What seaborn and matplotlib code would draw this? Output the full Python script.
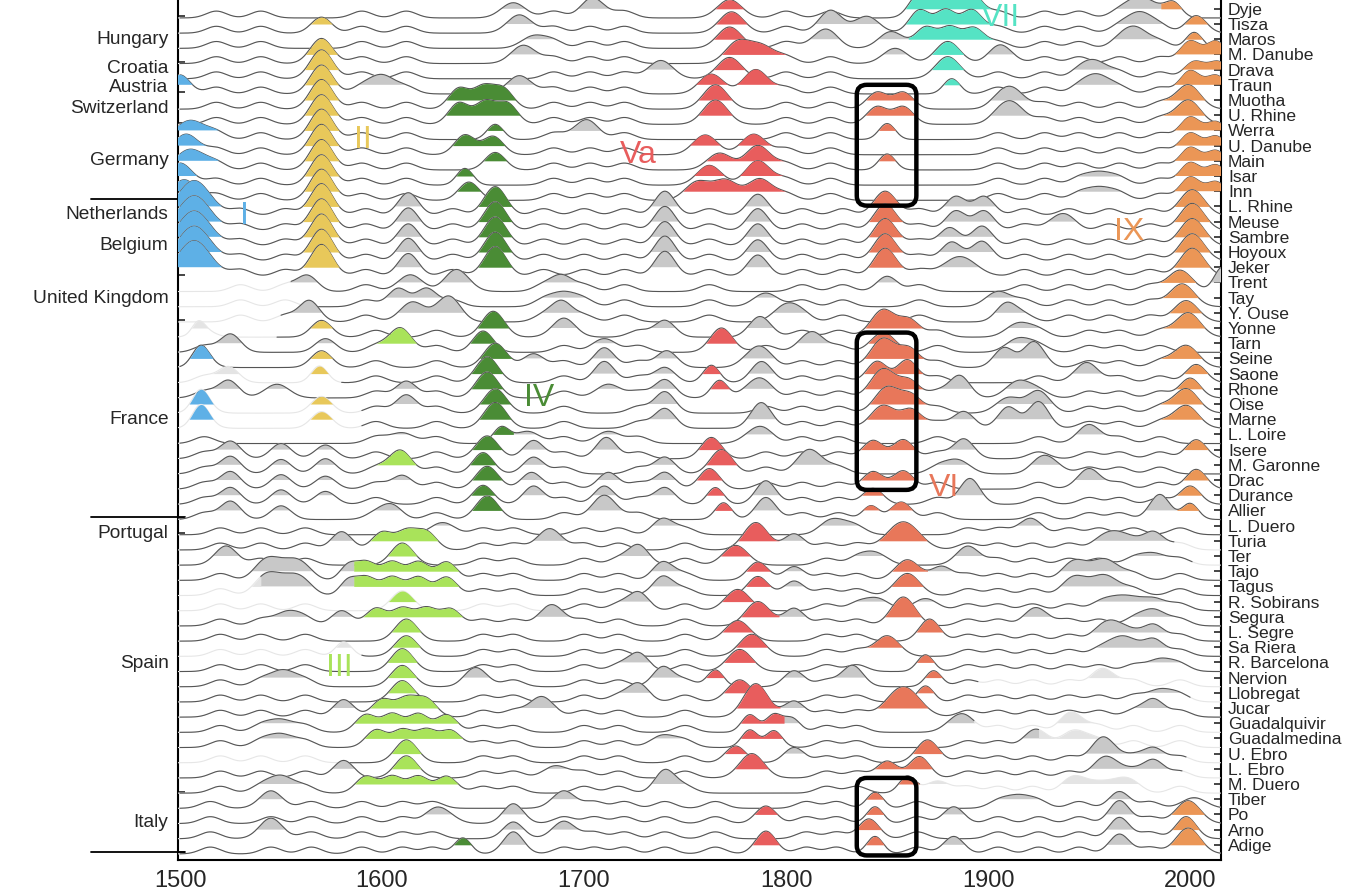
import numpy as np
import matplotlib
matplotlib.use("Agg")
import matplotlib.pyplot as plt
import seaborn as sns
from matplotlib.patches import FancyBboxPatch
from matplotlib.transforms import blended_transform_factory

# ---- data --------------------------------------------------------------
rivers = ["Dyje", "Tisza", "Maros", "M. Danube", "Drava", "Traun", "Muotha", "U. Rhine",
          "Werra", "U. Danube", "Main", "Isar", "Inn", "L. Rhine", "Meuse", "Sambre",
          "Hoyoux", "Jeker", "Trent", "Tay", "Y. Ouse", "Yonne", "Tarn", "Seine", "Saone",
          "Rhone", "Oise", "Marne", "L. Loire", "Isere", "M. Garonne", "Drac", "Durance",
          "Allier", "L. Duero", "Turia", "Ter", "Tajo", "Tagus", "R. Sobirans", "Segura",
          "L. Segre", "Sa Riera", "R. Barcelona", "Nervion", "Llobregat", "Jucar",
          "Guadalquivir", "Guadalmedina", "U. Ebro", "L. Ebro", "M. Duero", "Tiber", "Po",
          "Arno", "Adige"]

# first / last year of a continuous record (outside it the curve is faint)
record_start = [1500] * 18 + [1555, 1568, 1550, 1548, 1500, 1500, 1580, 1500, 1590, 1590,
                              1500, 1500, 1500, 1500, 1500, 1500, 1500, 1500, 1500, 1500,
                              1540, 1686, 1500, 1500, 1590, 1500, 1500, 1500, 1500, 1500,
                              1500, 1580, 1500, 1500, 1500, 1500, 1500, 1500]
record_end = [2016] * 35 + [1992, 2001, 2016, 2016, 2016, 2016, 2016, 2016, 2016, 1895,
                            2000, 2016, 1893, 1925, 1998, 1996, 1866, 2016, 2016, 2016, 2016]

# flood-rich episodes per river: "year:height[:spread][:cluster]"
episodes = [
    "1665:.4 1705:.3 1772:.6:Va 1866:1.0:5:VII 1879:1.0:5:VII 1892:1.0:5:VII 1975:.7 1992:.3:4:IX",
    "1570:.45:5:II 1668:.6 1773:.8:Va 1822:.45 1840:.5 1866:.9:5:VII 1879:.9:5:VII 1892:.9:5:VII 1975:.7 2003:.55:5:IX",
    "1675:.2 1772:.8:Va 1818:.3 1852:.5 1869:.75:5:VII 1881:.75:5:VII 1893:.7:5:VII 1973:.7 2002:.45:4:IX",
    "1570:1.05:5.5:II 1670:.6 1776:.8:Va 1788:.5:Va 1854:.4 1880:.85:VII 1907:.2 2000:.85:5:IX 2013:.85:5:IX",
    "1570:1.3:5.5:II 1738:.6 1772:.8:Va 1880:.85:VII 1953:.5 2002:.5:5:IX 2014:.5:5:IX",
    "1500:.65:5:I 1570:1.3:5.5:II 1600:.6 1668:.6 1763:.7:Va 1785:1.0:Va 1882:.4:4:VII 1954:.6 2000:.9:5:IX 2013:.6:5:IX",
    "1570:1.35:5.5:II 1638:.75:5:IV 1650:.8:5:IV 1660:.7:5:IV 1765:1.0:Va 1845:.5:5:VI 1858:.5:5:VI 1912:.7 1999:1.0:IX",
    "1570:1.35:5.5:II 1638:.8:5:IV 1651:.85:5:IV 1662:.75:5:IV 1765:1.0:Va 1845:.55:5:VI 1858:.55:5:VI 1912:.75 1999:1.0:IX",
    "1505:.65:7:I 1570:1.4:5.5:II 1656:.4:4:IV 1700:.3 1850:.45:4:VI 2000:.85:5:IX 2013:.55:5:IX",
    "1503:.75:6:I 1570:1.4:5.5:II 1641:.7:5:IV 1655:.6:5:IV 1760:.7:Va 1784:.75:Va 2000:.8:5:IX 2013:.6:5:IX",
    "1505:.75:7:I 1570:1.4:5.5:II 1656:.55:5:IV 1767:.5:Va 1786:1.0:Va 1850:.45:4:VI 2000:.85:5:IX 2013:.65:5:IX",
    "1500:.85:6:I 1570:1.4:5.5:II 1641:.5:4:IV 1762:.7:Va 1786:1.0:Va 1955:.2 2000:.85:5:IX 2013:.7:5:IX",
    "1502:.75:6:I 1570:1.45:5.5:II 1643:.6:5:IV 1756:.6:Va 1770:.7:Va 1787:.8:Va 1955:.2 2000:.9:5:IX 2013:.6:5:IX",
    "1507:1.7:8:I 1570:1.5:5.5:II 1613:.9:5 1656:1.3:5.5:IV 1740:1.0:5 1786:.8:5 1849:1.0:5.5:VI 1884:.65:5 1898:.65:5 2001:1.1:IX",
    "1507:1.7:8:I 1570:1.5:5.5:II 1613:.9:5 1656:1.3:5.5:IV 1740:1.0:5 1786:.85:5 1849:1.15:5.5:VI 1884:.7:5 1898:.7:5 1935:.2 2001:1.2:IX",
    "1507:1.7:8:I 1570:1.5:5.5:II 1613:.85:5 1656:1.3:5.5:IV 1740:1.0:5 1786:.85:5 1849:1.2:5.5:VI 1881:.6:5 1897:.7:5 2001:1.2:IX",
    "1507:1.7:8:I 1570:1.5:5.5:II 1613:.9:5 1656:1.3:5.5:IV 1740:1.05:5 1786:.8:5 1849:1.2:5.5:VI 1882:.65:5 1897:.7:5 2001:1.2:IX",
    "1507:1.75:8:I 1570:1.5:5.5:II 1613:.9:5 1656:1.35:5.5:IV 1740:1.05:5 1786:.8:5 1849:1.25:5.5:VI 1886:.7:8 2001:1.25:IX",
    "1563:.45:5 1614:.5 1638:.45 1689:.4:5 1850:.4:5 1995:.8:IX 2016:1.0:4",
    "1608:.6:5 1622:.6:5 1690:.3 1790:.3 1905:.4 1996:.9:IX",
    "1564:.8:5 1615:.7 1632:.7 1689:.7:5 1800:.5 1909:.6:5 1998:.8:IX",
    "1509:.1:3 1570:.5:5:II 1655:1.1:5.5:IV 1690:.2 1740:.5:5 1786:.4:5 1848:1.2:VI 1861:.5:5:VI 1915:.3 1999:1.0:IX",
    "1525:.6:5 1572:.3:5 1609:1.0:5.5:III 1650:.8:5:IV 1710:.3 1768:1.0:5.5:Va 1814:.5:5 1848:.7:VI 1915:.3",
    "1510:.45:4:I 1570:.5:5:II 1656:1.0:5.5:IV 1675:.3:5 1710:.7:5 1741:.5:5 1785:.5 1848:1.3:VI 1861:.6:5:VI 1908:.7:5 1922:.7:5 1998:.85:IX",
    "1524:.45:5 1569:.5:4:II 1652:1.1:5.5:IV 1710:.8:5 1740:.4:5 1763:.55:4:Va 1787:.4:5 1845:.8:5:VI 1860:.9:5:VI 1948:.3 2003:.6:5:IX",
    "1524:.55:5 1548:.3 1612:.5:5 1652:1.1:5.5:IV 1712:.3 1740:.6:5 1767:.55:4:Va 1785:.4 1848:1.3:VI 1861:.5:5:VI 1886:.85:5 1915:.5 2000:.7:5:IX",
    "1510:.55:4:I 1570:.5:5:II 1612:.6:5 1656:1.0:5.5:IV 1740:.8:5 1850:1.1:VI 1862:.5:5:VI 1910:.4 1925:.4 1998:1.0:IX",
    "1510:.55:4:I 1570:.5:5:II 1656:1.1:5.5:IV 1740:.7:5 1787:.7:5 1848:.9:VI 1862:.6:5:VI 1888:.5:5 1910:.8:5 1925:.7:5 1998:.9:IX",
    "1610:.1 1659:.45:4:IV 1672:.2 1712:.2 1785:.2 1950:.2",
    "1525:.55:5 1550:.4:5 1572:.3:5 1652:.9:5.5:IV 1675:.6:5 1711:.8:5 1763:.8:5:Va 1843:.6:5:VI 1858:.65:5:VI 1888:.7:5 2003:.65:5:IX",
    "1525:.55:5 1550:.35:5 1572:.4:5 1609:.95:5.5:III 1650:.8:5:IV 1675:.5:5 1740:.5:5 1768:1.0:5.5:Va 1813:.7 1885:.3 1930:.3",
    "1525:.55:5 1550:.35:5 1572:.25:5 1610:.3:5 1652:.9:5.5:IV 1674:.5:5 1712:.5:5 1740:.5:5 1762:.75:5:Va 1843:.55:5:VI 1858:.6:5:VI 1950:.3 2003:.7:5:IX",
    "1525:.5:5 1550:.35:5 1572:.25:5 1650:.65:5:IV 1675:.6:5 1710:.6:5 1740:.5:5 1765:.5:4:Va 1790:.5:5 1843:.45:5:VI 1891:1.1:5 2000:.6:5:IX",
    "1525:.6:5 1550:.3:5 1605:.3:5 1652:.95:5.5:IV 1710:1.0 1769:.5:4:Va 1790:.4:5 1842:.3:4:VI 1857:.55:5:VI 1985:.6:5 2000:.45:4:IX",
    "1630:.2 1739:.45:5 1826:.15 1920:.05",
    "1580:.6:5 1600:.55:5:III 1612:.6:5:III 1622:.55:5:III 1683:.8 1785:1.2:Va 1804:.45:5 1858:1.25:8:VI 1963:.45 1982:.55:5",
    "1524:.3:5 1610:.85:5.5:III 1727:.7:5 1775:.7:Va 1844:.2 1890:.2 1982:.15",
    "1545:.5 1556:.45 1583:.3:4 1592:.6:5:III 1605:.6:5:III 1618:.6:5:III 1632:.6:5:III 1739:.6:5 1786:.6:5:Va 1804:.3:5 1860:.75:VI 1877:.3:5 1945:.4 1960:.4",
    "1545:.5 1556:.45 1583:.3:4 1592:.6:5:III 1605:.6:5:III 1618:.6:5:III 1632:.6:5:III 1739:.65:5 1786:.65:5:Va 1804:.35:5 1860:.85:VI 1945:.35 1960:.35",
    "1610:.7:5.5:III 1727:.6:5 1776:.8:Va 1845:.2 1869:.2 1964:.2 1982:.2",
    "1553:.3 1580:.4:5 1597:.55:5:III 1610:.55:5:III 1622:.55:5:III 1634:.5:5:III 1684:.8 1786:1.0:Va 1804:.55:5 1858:1.3:VI 1925:.2 1982:.45",
    "1612:.85:5.5:III 1776:.75:Va 1871:.85:5:VI 1962:.55 1982:.45:5",
    "1581:.35:4 1612:.75:5.5:III 1783:.85:Va 1850:.75:VI 1965:.5 1982:.5:5",
    "1610:.9:5.5:III 1727:.6:5 1777:.85:Va 1869:.5:4:VI 1985:.2",
    "1551:.45 1610:.8:5.5:III 1645:.35:5 1739:.7:5 1765:.5:4:Va 1804:.45:5 1832:.4:5 1873:.45:4:VI 1958:.2",
    "1610:.8:5.5:III 1727:.6:5 1777:.85:Va 1869:.45:4:VI 1985:.2",
    "1581:.55:5 1600:.55:5:III 1612:.6:5:III 1622:.55:5:III 1679:.75 1785:1.6:Va 1804:.45:5 1858:1.4:8:VI 1982:.55:5",
    "1550:.2 1592:.55:5:III 1605:.6:5:III 1618:.6:5:III 1632:.55:5:III 1782:.55:4:Va 1794:.55:4:Va 1803:.3:4 1885:.3 1942:.3",
    "1550:.25 1597:.55:5:III 1610:.55:5:III 1622:.55:5:III 1634:.5:5:III 1739:.2 1782:.55:4:Va 1794:.5:4:Va 1925:.2 1945:.2",
    "1612:.9:5.5:III 1775:.5:5:Va 1804:.4:5 1870:.9:5.5:VI 1958:.7 1982:.35:5",
    "1581:.55:5 1612:.85:5.5:III 1686:.2 1783:1.0:Va 1850:.5:5:VI 1866:.8:5:VI 1960:.5 1982:.55:5",
    "1550:.5 1592:.5:5:III 1605:.5:5:III 1618:.5:5:III 1632:.5:5:III 1740:.9:5 1860:.5:4:VI 1875:.2 1945:.2 1965:.2",
    "1545:.1 1690:.1 1844:.45:4:VI 1915:.2 1965:.5:5 2002:.1",
    "1630:.15 1665:.7:5 1790:.55:5:Va 1844:.5:4:VI 1883:.5:5 1965:.9:5 1999:.9:IX",
    "1545:.3 1665:.5:5 1690:.1 1841:.7:5:VI 1965:.8:5 1998:.85:5:IX",
    "1640:.45:4:IV 1665:.85:5 1790:.9:5:Va 1844:.55:4:VI 1883:.55:5 1965:.7:5 1999:1.1:IX",
]

# small background undulations shared within regions (first row, last row, years)
wiggles = [
    (0, 12, [1518, 1540, 1590, 1612, 1685, 1703, 1720, 1800, 1822, 1905, 1928, 1945, 1965, 1985]),
    (13, 20, [1530, 1552, 1592, 1635, 1680, 1700, 1720, 1762, 1808, 1828, 1866, 1918, 1940, 1960, 1980]),
    (21, 33, [1512, 1597, 1627, 1690, 1727, 1790, 1808, 1826, 1875, 1925, 1950, 1965, 1985]),
    (34, 51, [1520, 1540, 1562, 1650, 1665, 1700, 1717, 1750, 1820, 1835, 1890, 1905, 1922, 1940,
              1955, 1972, 1995]),
    (52, 55, [1515, 1545, 1565, 1590, 1610, 1625, 1690, 1705, 1720, 1740, 1765, 1810, 1825, 1865,
              1905, 1925, 1945, 1980]),
]

cluster_names = ["I", "II", "III", "IV", "Va", "VI", "VII", "IX"]
cluster_colors = ["#5eb0e6", "#e8c85a", "#a9e35a", "#4a8c35", "#e85d5d", "#e8775a", "#55e3c4", "#eb9656"]
label_year = [1532, 1590.5, 1579, 1678, 1727, 1878, 1906, 1970]
label_row = [13.6, 8.6, 43.4, 25.6, 9.6, 31.5, 0.6, 14.7]

countries = ["Hungary", "Croatia", "Austria", "Switzerland", "Germany", "Netherlands", "Belgium",
             "United Kingdom", "France", "Portugal", "Spain", "Italy"]
country_row = [2.05, 3.95, 5.15, 6.55, 10.0, 13.5, 15.55, 19.05, 27.0, 34.5, 43.05, 53.5]
country_bounds = [0.5, 3.5, 4.5, 5.5, 7.5, 12.5, 13.5, 17.5, 20.5, 33.5, 34.5, 51.5, 55.5]
separators = [12.5, 33.45, 55.45]

# highlighted boxes: (year from, year to, row from, row to)
boxes = [(1835, 1864.5, 5.0, 12.95), (1835, 1864.5, 21.3, 31.65), (1835, 1864.5, 50.6, 55.7)]

# ---- drawing ----------------------------------------------------------------
sns.set_style("white")
plt.rcParams["font.family"] = ["Liberation Sans", "DejaVu Sans"]

fig, ax = plt.subplots(figsize=(13.48, 8.92), dpi=100)
fig.subplots_adjust(left=178 / 1348, right=1221 / 1348, bottom=1 - 860 / 892, top=1.0)

BASE = 0.6
xs = np.arange(1499.0, 2016.01, 0.5)
color_of = dict(zip(cluster_names, cluster_colors))


def parse(s):
    out = []
    for tok in s.split():
        p = tok.split(":")
        sd, cl = 6.0, ""
        for q in p[2:]:
            try:
                sd = float(q)
            except ValueError:
                cl = q
        out.append((float(p[0]), float(p[1]) + BASE, sd, cl))
    return out


def dilate(m):
    return m | np.roll(m, 1) | np.roll(m, -1)


for i, name in enumerate(rivers):
    bumps = parse(episodes[i])
    contrib = np.array([h * np.exp(-0.5 * ((xs - yr) / sd) ** 2) for yr, h, sd, _ in bumps])
    wig_years = [w for a, b, ys in wiggles if a <= i <= b for w in ys]
    wig = sum(0.45 * np.exp(-0.5 * ((xs - w) / 5.0) ** 2) for w in wig_years)
    curve = contrib.sum(0) + wig - BASE

    labels = np.array([b[3] for b in bumps])
    dom = labels[contrib.argmax(0)]
    dom[contrib.max(0) < 0.1] = ""

    y0 = -i
    top = y0 + np.maximum(curve, 0)
    above = curve > 0
    active = (xs >= record_start[i]) & (xs <= record_end[i])
    z = 10 + 3 * i

    for cl in np.unique(dom[above]):
        m = above & (dom == cl)
        if cl == "":
            ax.fill_between(xs, y0, top, where=dilate(m & active), color="#c8c8c8", lw=0, zorder=z)
            ax.fill_between(xs, y0, top, where=dilate(m & ~active), color="#e4e4e4", lw=0, zorder=z)
        else:
            ax.fill_between(xs, y0, top, where=dilate(m), color=color_of[cl], lw=0, zorder=z + 2)

    sns.lineplot(x=xs, y=y0 + curve, ax=ax, color="#e6e6e6", lw=0.8,
                 estimator=None, sort=False, zorder=z + 1)
    sns.lineplot(x=xs[active], y=(y0 + curve)[active], ax=ax, color="#555555", lw=0.8,
                 estimator=None, sort=False, zorder=z + 1)

for nm, col, yr, rw in zip(cluster_names, cluster_colors, label_year, label_row):
    ax.text(yr, -rw, nm, color=col, fontsize=23, ha="center", va="center", zorder=1000)

for x0, x1, r0, r1 in boxes:
    ax.add_patch(FancyBboxPatch((x0, -r1), x1 - x0, r1 - r0,
                                boxstyle="round,pad=0,rounding_size=5", mutation_aspect=0.13,
                                fill=False, ec="black", lw=3.2, zorder=1000))

trans = blended_transform_factory(ax.transAxes, ax.transData)
for nm, rw in zip(countries, country_row):
    ax.text(-0.009, -rw, nm, transform=trans, ha="right", va="center", fontsize=13.8)
for rw in separators:
    ax.plot([-0.083, 0.007], [-rw, -rw], transform=trans, color="black", lw=1.3, clip_on=False)

ax.set_xlim(1499, 2015.3)
ax.set_ylim(-56.0, 0.58)
ax.set_xlabel("")
ax.set_ylabel("")
ax.set_xticks([1500, 1600, 1700, 1800, 1900, 2000])
ax.tick_params(axis="x", direction="in", length=5, width=1.2, labelsize=17, pad=7)
ax.yaxis.tick_right()
ax.set_yticks([-i for i in range(len(rivers))])
ax.set_yticklabels(rivers, fontsize=12.6)
ax.tick_params(axis="y", which="major", direction="in", length=5, width=1.2, pad=5,
               left=False, right=True, labelleft=False, labelright=True)
ax.set_yticks([-b for b in country_bounds], minor=True)
ax.tick_params(axis="y", which="minor", direction="in", length=5, width=1.2,
               left=True, right=False)
ax.spines["top"].set_visible(False)
for s in ["left", "right", "bottom"]:
    ax.spines[s].set_linewidth(1.5)
    ax.spines[s].set_color("black")

fig.savefig("out.png", dpi=100)
